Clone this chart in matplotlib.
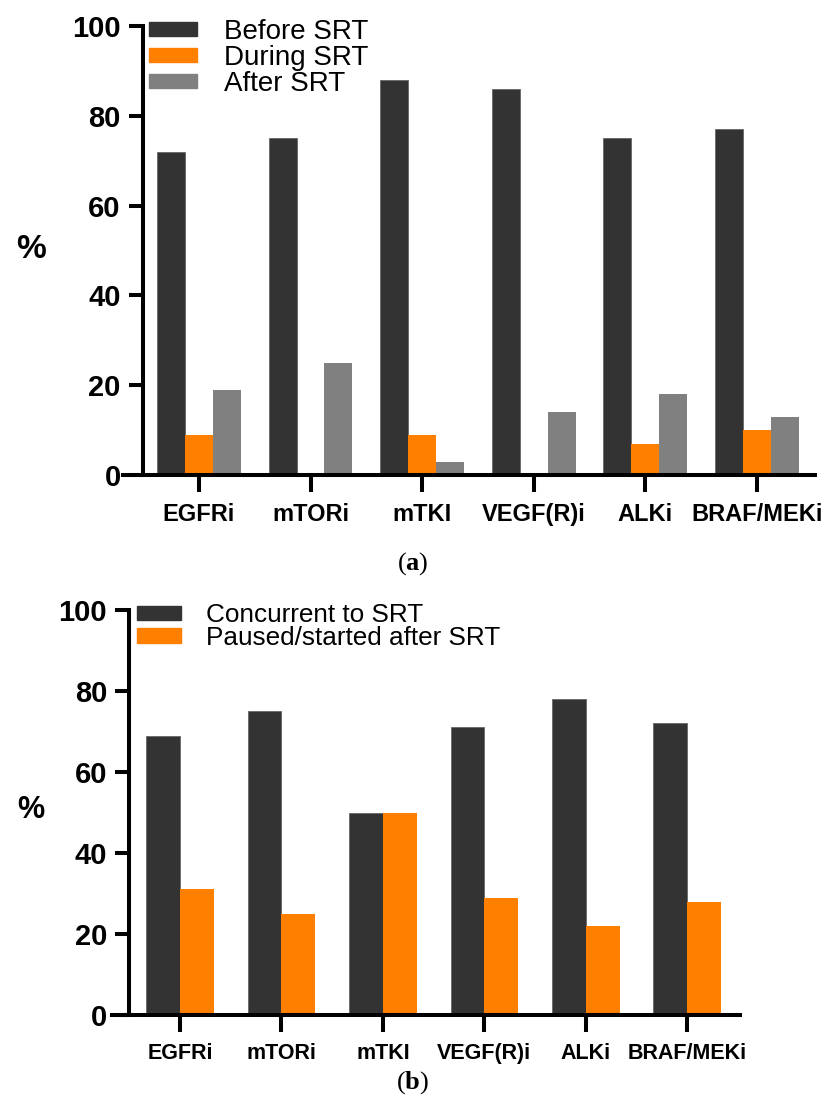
import numpy as np
import matplotlib.pyplot as plt
from matplotlib.patches import Patch

plt.rcParams['font.family'] = ['Liberation Sans', 'DejaVu Sans']
plt.rcParams['mathtext.fontset'] = 'custom'
plt.rcParams['mathtext.rm'] = 'Liberation Serif'
plt.rcParams['mathtext.bf'] = 'Liberation Serif:bold'

# ── data ─────────────────────────────────────────────────────────
drugs = ['EGFRi', 'mTORi', 'mTKI', 'VEGF(R)i', 'ALKi', 'BRAF/MEKi']
before_srt = [72, 75, 88, 86, 75, 77]
during_srt = [9, 0, 9, 0, 7, 10]
after_srt = [19, 25, 3, 14, 18, 13]
concurrent = [69, 75, 50, 71, 78, 72]
paused = [31, 25, 50, 29, 22, 28]
y_ticks = [0, 20, 40, 60, 80, 100]

dark = '#333333'
orange = '#FF7F00'
grey = '#808080'

W, H = 827, 1101
fig = plt.figure(figsize=(W / 100, H / 100), dpi=100)


def px_axes(left, top, right, bottom):
    return fig.add_axes([left / W, 1 - bottom / H, (right - left) / W, (bottom - top) / H])


def style(ax, xleft, fs_x):
    ax.set_ylim(0, 100)
    ax.set_xlim(xleft, 5.52)
    ax.spines[['top', 'right']].set_visible(False)
    ax.spines['left'].set_position(('data', -0.5))
    for s in ['left', 'bottom']:
        ax.spines[s].set_linewidth(2.9)
    ax.set_yticks(y_ticks)
    ax.set_xticks(range(len(drugs)))
    ax.set_xticklabels(drugs, fontsize=fs_x, fontweight='bold')
    ax.tick_params(axis='y', length=10, width=2.9, labelsize=21, pad=6)
    ax.tick_params(axis='x', length=12.5, width=2.9, pad=8)
    for lb in ax.get_yticklabels():
        lb.set_fontweight('bold')


x = np.arange(len(drugs))

# ── Panel (a) ────────────────────────────────────────────────────
ax1 = px_axes(123, 26, 815, 475)
w = 0.25
ax1.bar(x - w, before_srt, w, color=dark, edgecolor='#666666', linewidth=0.6)
ax1.bar(x, during_srt, w, color=orange, linewidth=0)
ax1.bar(x + w, after_srt, w, color=grey, linewidth=0)
style(ax1, -0.68, 17)

ax1.legend(handles=[Patch(color=dark), Patch(color=orange), Patch(color=grey)],
           labels=['Before SRT', 'During SRT', 'After SRT'],
           loc='upper left', bbox_to_anchor=(149 / W, 1 - 19 / H),
           bbox_transform=fig.transFigure, frameon=False, fontsize=20,
           handlelength=1.73, handleheight=0.43, handletextpad=0.97,
           labelspacing=0.0, borderpad=0, borderaxespad=0)

fig.text(31 / W, 1 - 250 / H, '%', fontsize=24, fontweight='bold',
         ha='center', va='center')

# ── Panel (b) ────────────────────────────────────────────────────
ax2 = px_axes(112, 610, 740, 1015)
w = 1 / 3
ax2.bar(x - w / 2, concurrent, w, color=dark, edgecolor='#666666', linewidth=0.6)
ax2.bar(x + w / 2, paused, w, color=orange, linewidth=0)
style(ax2, -0.67, 15.5)

ax2.legend(handles=[Patch(color=dark), Patch(color=orange)],
           labels=['Concurrent to SRT', 'Paused/started after SRT'],
           loc='upper left', bbox_to_anchor=(137 / W, 1 - 603 / H),
           bbox_transform=fig.transFigure, frameon=False, fontsize=18.8,
           handlelength=1.69, handleheight=0.46, handletextpad=0.96,
           labelspacing=-0.05, borderpad=0, borderaxespad=0)

fig.text(31 / W, 1 - 810 / H, '%', fontsize=22, fontweight='bold',
         ha='center', va='center')

# ── captions ─────────────────────────────────────────────────────
fig.text(413 / W, 1 - 564 / H, r'($\mathbf{a}$)', fontsize=19,
         family='Liberation Serif', ha='center', va='center')
fig.text(413 / W, 1 - 1083 / H, r'($\mathbf{b}$)', fontsize=19,
         family='Liberation Serif', ha='center', va='center')

fig.savefig('out.png', dpi=100)
